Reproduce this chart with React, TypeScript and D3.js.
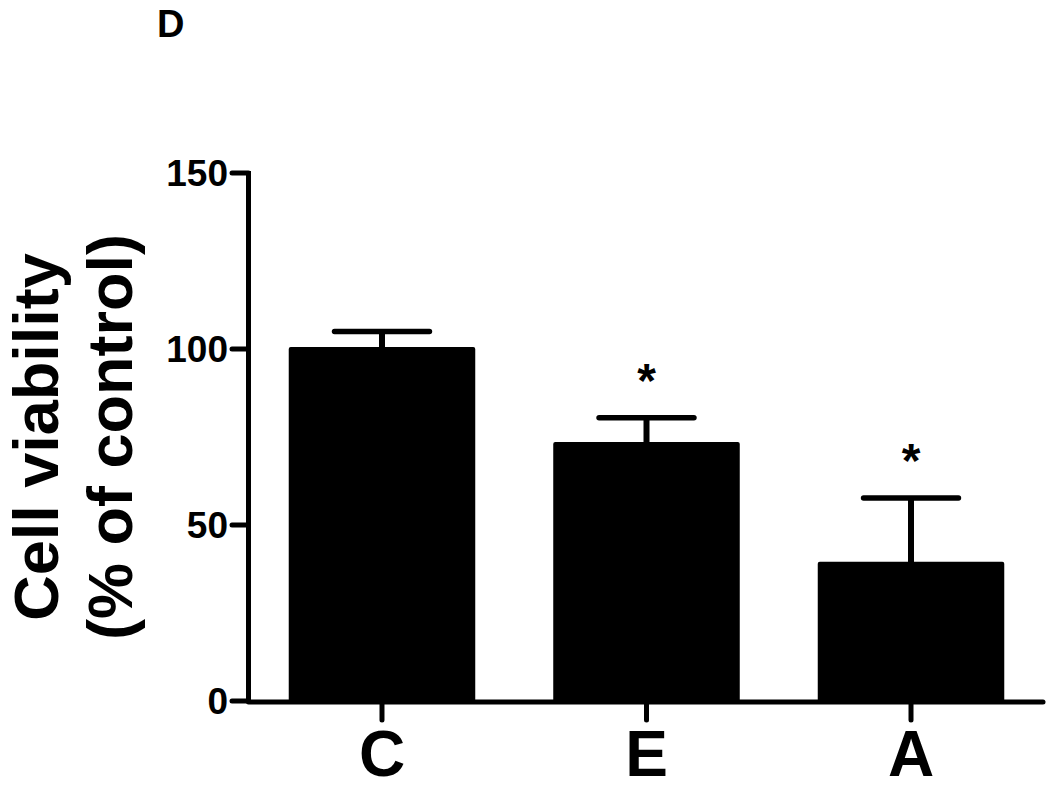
import React from "react";
import * as d3 from "d3";

const categories = ["C", "E", "A"];
const means = [100, 73, 39];
const errors = [5, 7.5, 18.7];
const significant = [false, true, true];
const yTicks = [0, 50, 100, 150];
const yLabelLines = ["Cell viability", "(% of control)"];
const panelLabel = "D";

const W = 1050;
const H = 790;
const FONT = "'Liberation Sans', Arial, Helvetica, sans-serif";

export default function App() {
  const x = d3
    .scaleBand<string>()
    .domain(categories)
    .range([250, 1043])
    .paddingInner(0.31)
    .paddingOuter(0.154);
  const y = d3.scaleLinear().domain([0, 150]).range([701, 173]);
  const axisX = 248.5;
  const bw = x.bandwidth();
  const capW = bw * 0.52;

  return (
    <svg
      width={W}
      height={H}
      style={{ position: "absolute", left: 0, top: 0, background: "#fff" }}
      fontFamily={FONT}
      fontWeight="bold"
    >
      <rect x={0} y={0} width={W} height={H} fill="#fff" />
      <text x={157} y={37} fontSize={38}>
        {panelLabel}
      </text>

      {/* y label */}
      <g transform={`translate(58,437) rotate(-90)`}>
        <text x={0} y={0} fontSize={63} textAnchor="middle">
          {yLabelLines[0]}
        </text>
        <text x={0} y={74} fontSize={63} textAnchor="middle">
          {yLabelLines[1]}
        </text>
      </g>

      {/* bars */}
      {categories.map((c, i) => {
        const x0 = x(c)!;
        const cx = x0 + bw / 2;
        const top = y(means[i]);
        const errTop = y(means[i] + errors[i]);
        return (
          <g key={c}>
            <line
              x1={cx}
              x2={cx}
              y1={top}
              y2={errTop}
              stroke="#000"
              strokeWidth={6}
            />
            <line
              x1={cx - capW / 2}
              x2={cx + capW / 2}
              y1={errTop}
              y2={errTop}
              stroke="#000"
              strokeWidth={5.5}
              strokeLinecap="round"
            />
            <rect
              x={x0}
              y={top}
              width={bw}
              height={y(0) - top}
              fill="#000"
              stroke="#000"
              strokeWidth={4}
              strokeLinejoin="round"
            />
            {significant[i] && (
              <text x={cx} y={errTop - 21} fontSize={48} textAnchor="middle">
                *
              </text>
            )}
          </g>
        );
      })}

      {/* y axis */}
      <line
        x1={axisX}
        x2={axisX}
        y1={y(150) - 2}
        y2={y(0)}
        stroke="#000"
        strokeWidth={5}
      />
      {yTicks.map((t) => (
        <g key={t}>
          <line
            x1={232}
            x2={axisX}
            y1={y(t)}
            y2={y(t)}
            stroke="#000"
            strokeWidth={5}
            strokeLinecap="round"
          />
          <text
            x={228}
            y={y(t) + 13}
            fontSize={37}
            textAnchor="end"
          >
            {t}
          </text>
        </g>
      ))}

      {/* x axis */}
      <line
        x1={axisX}
        x2={1043}
        y1={y(0) + 1}
        y2={y(0) + 1}
        stroke="#000"
        strokeWidth={5}
        strokeLinecap="round"
      />
      {categories.map((c) => {
        const cx = x(c)! + bw / 2;
        return (
          <g key={c + "t"}>
            <line
              x1={cx}
              x2={cx}
              y1={y(0) + 1}
              y2={y(0) + 19}
              stroke="#000"
              strokeWidth={5}
              strokeLinecap="round"
            />
            <text x={cx} y={776} fontSize={64} textAnchor="middle">
              {c}
            </text>
          </g>
        );
      })}
    </svg>
  );
}
